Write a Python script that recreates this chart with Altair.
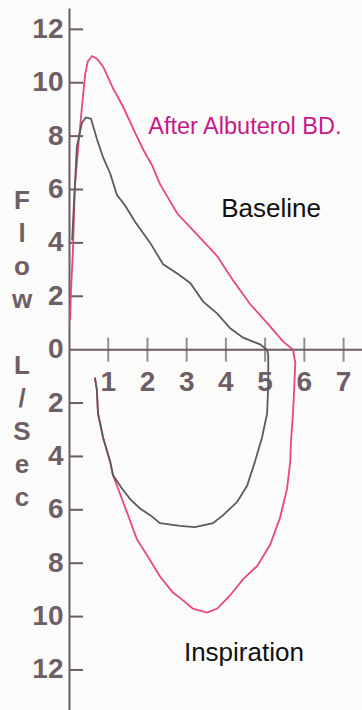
import altair as alt
import pandas as pd

# Flow-volume loop: volume in litres (x), flow in L/s (y; expiration above 0, inspiration below)
after_exp_volume = [0.03, 0.05, 0.10, 0.15, 0.23, 0.33, 0.41, 0.48, 0.59, 0.71, 0.87, 1.12, 1.38,
                    1.63, 1.89, 2.12, 2.32, 2.76, 3.34, 3.78, 4.18, 4.62, 5.05, 5.46, 5.71]
after_exp_flow = [1.1, 2.2, 3.7, 6.1, 7.5, 9.1, 10.3, 10.8, 11.0, 10.9, 10.6, 9.8, 9.1,
                  8.3, 7.5, 6.9, 6.2, 5.1, 4.2, 3.5, 2.6, 1.7, 1.0, 0.3, 0.0]
after_insp_volume = [5.71, 5.77, 5.74, 5.71, 5.66, 5.64, 5.56, 5.38, 5.13, 4.80, 4.44, 4.11, 3.78, 3.52,
                     3.16, 2.83, 2.65, 2.32, 1.99, 1.73, 1.48, 1.25, 1.12, 1.05, 0.87, 0.74, 0.71, 0.66]
after_insp_flow = [0.0, -0.5, -1.5, -2.4, -3.4, -4.2, -5.2, -6.3, -7.3, -8.1, -8.6, -9.2, -9.7, -9.85,
                   -9.7, -9.3, -9.1, -8.5, -7.7, -7.1, -6.1, -5.2, -4.7, -4.2, -3.3, -2.4, -1.5, -1.05]

base_exp_volume = [0.08, 0.13, 0.20, 0.33, 0.43, 0.56, 0.71, 0.87, 1.05, 1.22, 1.43, 1.68, 2.07,
                   2.40, 2.76, 3.09, 3.42, 3.78, 4.11, 4.44, 4.87, 5.05]
base_exp_flow = [4.1, 5.6, 7.6, 8.5, 8.7, 8.65, 7.9, 7.2, 6.6, 5.8, 5.4, 4.8, 4.0,
                 3.2, 2.85, 2.5, 1.8, 1.35, 0.8, 0.45, 0.2, 0.0]
base_insp_volume = [5.05, 5.08, 5.08, 5.05, 4.92, 4.74, 4.54, 4.29, 3.93, 3.67, 3.21, 2.83,
                    2.32, 2.07, 1.81, 1.56, 1.35, 1.12, 1.05, 0.87, 0.74, 0.71, 0.66]
base_insp_flow = [0.0, -0.2, -1.35, -2.4, -3.3, -4.2, -5.1, -5.7, -6.2, -6.5, -6.65, -6.6,
                  -6.5, -6.2, -5.95, -5.6, -5.2, -4.7, -4.2, -3.3, -2.4, -1.5, -1.05]

y_ticks = [-12, -10, -8, -6, -4, -2, 0, 2, 4, 6, 8, 10, 12]
x_ticks = [1, 2, 3, 4, 5, 6, 7]
# vertical axis title, one letter per row; the empty row separates the two words
y_title_letters = ["F", "l", "o", "w", "", "L", "/", "S", "e", "c"]

notes = ["After Albuterol BD.", "Baseline", "Inspiration"]
note_volume = [2.02, 3.88, 2.93]
note_flow = [8.09, 4.98, -11.65]

# ---- layout / style ----
X_MAX, Y_MIN, Y_MAX = 7.47, -13.5, 12.8
W, H = 293, 702
AXIS_COLOR = "#6c5c63"
LABEL_COLOR = "#6e5f66"
AFTER_COLOR = "#e8467f"
BASE_COLOR = "#5b5b5b"
FONT = "Liberation Sans, Arial, sans-serif"
PX_PER_L = H / (Y_MAX - Y_MIN)
TITLE_LINE = 33  # px between stacked title letters


def segment(vol, flow, name):
    return pd.DataFrame({"volume": vol, "flow": flow, "seg": name, "idx": range(len(vol))})


after_df = pd.concat([segment(after_exp_volume, after_exp_flow, "exp"),
                      segment(after_insp_volume, after_insp_flow, "insp")])
base_df = pd.concat([segment(base_exp_volume, base_exp_flow, "exp"),
                     segment(base_insp_volume, base_insp_flow, "insp")])

xs = alt.Scale(domain=[0, X_MAX], nice=False, zero=False)
ys = alt.Scale(domain=[Y_MIN, Y_MAX], nice=False, zero=False)
y_axis = alt.Axis(
    values=y_ticks, labelExpr="abs(datum.value)", ticks=False, grid=False, title=None,
    labelPadding=6, labelFont=FONT, labelFontSize=28, labelFontWeight="bold",
    labelColor=LABEL_COLOR, labelOverlap=False, labelFlush=False,
    domainColor=AXIS_COLOR, domainWidth=2,
)


def X(field):
    return alt.X(field, type="quantitative", scale=xs, axis=None)


def Y(field):
    return alt.Y(field, type="quantitative", scale=ys, axis=y_axis)


# title letters stacked as a block centred on the zero-flow line
n_rows = len(y_title_letters)
title_df = pd.DataFrame({
    "letter": y_title_letters,
    "row_flow": [((n_rows - 1) / 2 - i) * TITLE_LINE / PX_PER_L for i in range(n_rows)],
})
title_df = title_df[title_df["letter"] != ""]

ytick_df = pd.DataFrame({"v": [v for v in y_ticks if v != 0]})
xtick_df = pd.DataFrame({"v": x_ticks, "y0": [0] * len(x_ticks), "label": [str(v) for v in x_ticks]})
zero_df = pd.DataFrame({"y0": [0]})
note_df = pd.DataFrame({"text": notes, "volume": note_volume, "flow": note_flow})

x_axis_line = alt.Chart(zero_df).mark_rule(color=AXIS_COLOR, strokeWidth=2).encode(y=Y("y0"))

y_inner_ticks = alt.Chart(ytick_df).mark_rule(color=AXIS_COLOR, strokeWidth=2).encode(
    y=Y("v"), x=alt.value(0), x2=alt.value(14))

y_title = alt.Chart(title_df).mark_text(
    font=FONT, fontSize=26, fontWeight="bold", color=LABEL_COLOR,
    align="center", baseline="middle"
).encode(y=Y("row_flow"), x=alt.value(-47), text="letter:N")

x_tick_marks = alt.Chart(xtick_df).mark_tick(
    orient="vertical", size=24, thickness=2, color=AXIS_COLOR).encode(x=X("v"), y=Y("y0"))

x_tick_labels = alt.Chart(xtick_df).mark_text(
    dy=33, font=FONT, fontSize=28, fontWeight="bold", color=LABEL_COLOR, baseline="middle"
).encode(x=X("v"), y=Y("y0"), text="label:N")

after_line = alt.Chart(after_df).mark_line(color=AFTER_COLOR, strokeWidth=1.8).encode(
    x=X("volume"), y=Y("flow"), detail="seg:N", order="idx:Q")

base_line = alt.Chart(base_df).mark_line(color=BASE_COLOR, strokeWidth=1.8).encode(
    x=X("volume"), y=Y("flow"), detail="seg:N", order="idx:Q")

note_after = alt.Chart(note_df.iloc[[0]]).mark_text(
    align="left", baseline="alphabetic", font=FONT, fontSize=23.5, color="#c8178c"
).encode(x=X("volume"), y=Y("flow"), text="text:N")

note_other = alt.Chart(note_df.iloc[1:]).mark_text(
    align="left", baseline="alphabetic", font=FONT, fontSize=26, color="#111111"
).encode(x=X("volume"), y=Y("flow"), text="text:N")

chart = alt.layer(
    x_axis_line, y_inner_ticks, y_title, x_tick_marks, x_tick_labels,
    after_line, base_line, note_after, note_other,
).properties(
    width=W, height=H,
    autosize=alt.AutoSizeParams(type="none"),
    padding={"left": 69, "top": 8, "right": 0, "bottom": 0},
    background="#fbfbf9",
).configure_view(stroke=None)

chart.save("out.html", embed_options={"renderer": "svg", "actions": False})
